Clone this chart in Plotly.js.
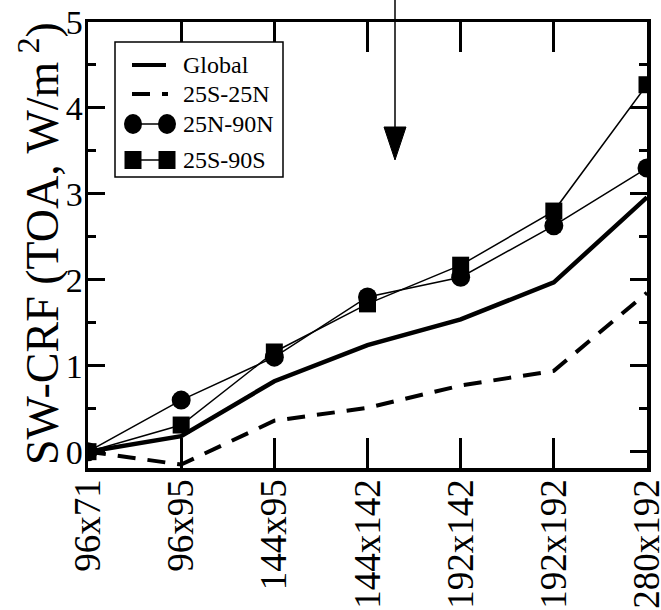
<!DOCTYPE html>
<html>
<head>
<meta charset="utf-8">
<script src="https://cdn.plot.ly/plotly-3.0.1.min.js"></script>
<style>html,body{margin:0;padding:0;background:#fff;}#chart{width:661px;height:610px;}</style>
</head>
<body>
<div id="chart"></div>
<script>
const categories = ["96x71", "96x95", "144x95", "144x142", "192x142", "192x192", "280x192"];
const seriesNames = ["Global", "25S-25N", "25N-90N", "25S-90S"];
const globalVals = [0, 0.18, 0.82, 1.24, 1.54, 1.97, 2.96];
const tropicsVals = [0, -0.15, 0.36, 0.51, 0.77, 0.94, 1.85];
const northVals = [0, 0.60, 1.10, 1.80, 2.03, 2.63, 3.30];
const southVals = [0, 0.31, 1.16, 1.72, 2.17, 2.80, 4.27];
const yTickVals = [0, 1, 2, 3, 4, 5];
const yTitle = "SW-CRF (TOA, W/m<sup> 2</sup>)";

const xIdx = categories.map((c, i) => i);
const FONT = "Liberation Serif";

const traces = [
  {x: xIdx, y: globalVals, name: seriesNames[0], mode: "lines",
   line: {color: "#000", width: 4.5}, showlegend: false},
  {x: xIdx, y: tropicsVals, name: seriesNames[1], mode: "lines",
   line: {color: "#000", width: 4, dash: "18px,12px"}, showlegend: false},
  {x: xIdx, y: northVals, name: seriesNames[2], mode: "lines+markers",
   line: {color: "#000", width: 1.5}, marker: {symbol: "circle", size: 19, color: "#000"}, showlegend: false},
  {x: xIdx, y: southVals, name: seriesNames[3], mode: "lines+markers",
   line: {color: "#000", width: 1.5}, marker: {symbol: "square", size: 17, color: "#000"}, showlegend: false}
];

// helper: pixel -> paper coordinates for legend/arrow decorations
const L = 88, R = 647, T = 22, B = 468;
const px = v => (v - L) / (R - L);
const py = v => (B - v) / (B - T);

const shapes = [];
const annotations = [];
// legend box
shapes.push({type: "rect", xref: "paper", yref: "paper", x0: px(115), x1: px(283), y0: py(177), y1: py(42),
  line: {color: "#000", width: 1.5}, fillcolor: "#fff", layer: "above"});
const rows = [65, 94, 124, 160];
shapes.push({type: "line", xref: "paper", yref: "paper", x0: px(132), x1: px(166), y0: py(rows[0]), y1: py(rows[0]),
  line: {color: "#000", width: 4}, layer: "above"});
shapes.push({type: "line", xref: "paper", yref: "paper", x0: px(132), x1: px(168), y0: py(rows[1]), y1: py(rows[1]),
  line: {color: "#000", width: 4, dash: "18px,12px"}, layer: "above"});
shapes.push({type: "line", xref: "paper", yref: "paper", x0: px(133), x1: px(167), y0: py(rows[2]), y1: py(rows[2]),
  line: {color: "#000", width: 1.5}, layer: "above"});
[133, 167].forEach(cx => shapes.push({type: "circle", xref: "paper", yref: "paper",
  x0: px(cx - 9), x1: px(cx + 9), y0: py(rows[2] + 10), y1: py(rows[2] - 10),
  line: {color: "#000", width: 0}, fillcolor: "#000", layer: "above"}));
shapes.push({type: "line", xref: "paper", yref: "paper", x0: px(133), x1: px(167), y0: py(rows[3]), y1: py(rows[3]),
  line: {color: "#000", width: 1.5}, layer: "above"});
[133, 167].forEach(cx => shapes.push({type: "rect", xref: "paper", yref: "paper",
  x0: px(cx - 8.5), x1: px(cx + 8.5), y0: py(rows[3] + 9), y1: py(rows[3] - 9),
  line: {color: "#000", width: 0}, fillcolor: "#000", layer: "above"}));
seriesNames.forEach((n, i) => annotations.push({xref: "paper", yref: "paper", x: px(181), y: py(rows[i]),
  xanchor: "left", yanchor: "middle", text: n, showarrow: false,
  font: {family: FONT, size: 24, color: "#000"}}));

// y-axis title placed as rotated text
annotations.push({xref: "paper", yref: "paper", x: px(39), y: py(244), xanchor: "center", yanchor: "middle",
  text: yTitle, textangle: -90, showarrow: false, font: {family: FONT, size: 46, color: "#000"}});

// arrow at top
shapes.push({type: "line", xref: "paper", yref: "paper", x0: px(395), x1: px(395), y0: py(-5), y1: py(130),
  line: {color: "#000", width: 1.5}, layer: "above"});
shapes.push({type: "path", xref: "paper", yref: "paper",
  path: `M ${px(384)} ${py(127)} L ${px(406)} ${py(127)} L ${px(395)} ${py(160)} Z`,
  fillcolor: "#000", line: {color: "#000", width: 1}, layer: "above"});

const layout = {
  width: 661, height: 610,
  margin: {l: L, r: 661 - R, t: T, b: 610 - B},
  paper_bgcolor: "#fff", plot_bgcolor: "#fff",
  font: {family: FONT, color: "#000"},
  showlegend: false,
  xaxis: {
    range: [0, categories.length - 1],
    tickmode: "array", tickvals: xIdx, ticktext: categories,
    tickangle: -90, tickfont: {family: FONT, size: 37, color: "#000"},
    ticklabeloverflow: "allow", ticklabelstandoff: -7,
    ticks: "inside", ticklen: 30, tickwidth: 3, tickcolor: "#000",
    showline: true, linewidth: 3.5, linecolor: "#000", mirror: "ticks",
    showgrid: false, zeroline: false
  },
  yaxis: {
    range: [-0.19, 5.0],
    tickmode: "array", tickvals: yTickVals,
    tickfont: {family: FONT, size: 34, color: "#000"},
    ticklabeloverflow: "allow", ticklabelstandoff: -5,
    ticks: "inside", ticklen: 17, tickwidth: 3, tickcolor: "#000",
    minor: {dtick: 0.5, ticks: "inside", ticklen: 8, tickwidth: 3, tickcolor: "#000", showgrid: false},
    showline: true, linewidth: 3.5, linecolor: "#000", mirror: "ticks",
    showgrid: false, zeroline: false
  },
  shapes: shapes,
  annotations: annotations
};

Plotly.newPlot("chart", traces, layout, {staticPlot: true, displayModeBar: false});
</script>
</body>
</html>
